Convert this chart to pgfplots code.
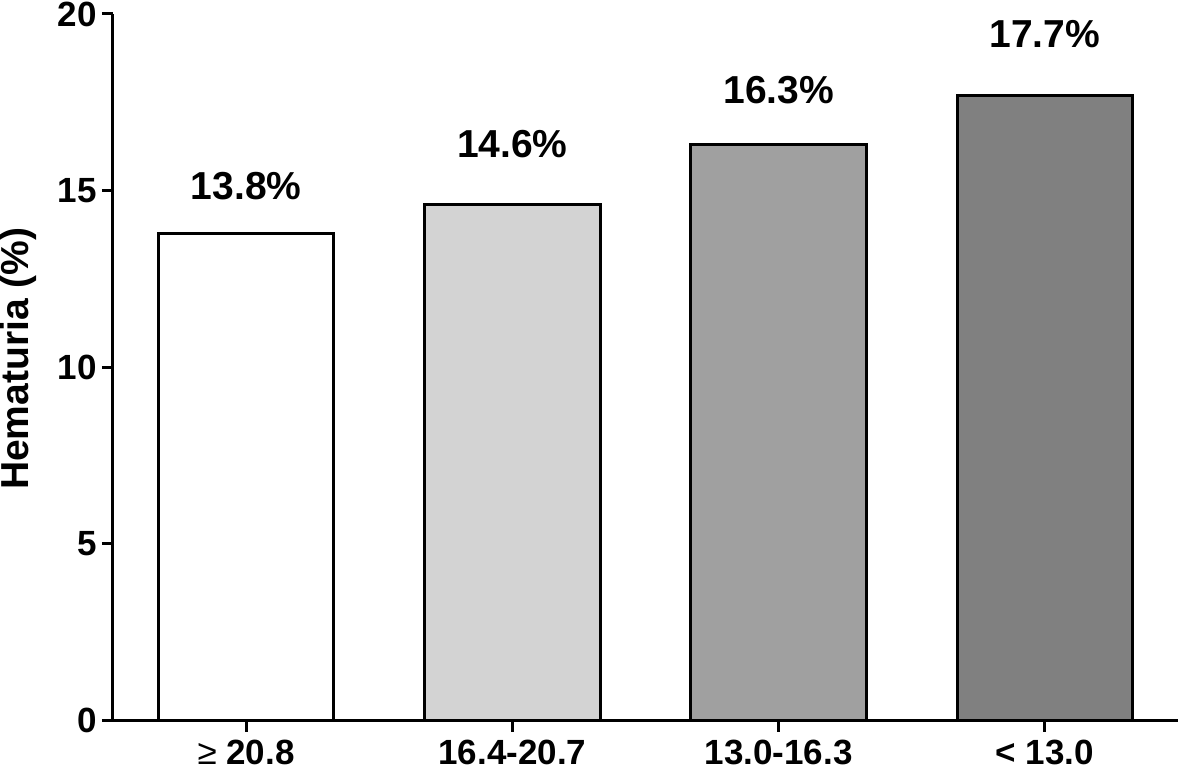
\documentclass[border=0pt]{standalone}
\usepackage{pgfplots}
\pgfplotsset{compat=1.18}
\usepackage{fontspec}
\setmainfont{Liberation Sans}
\definecolor{barA}{HTML}{FFFFFF}
\definecolor{barB}{HTML}{D3D3D3}
\definecolor{barC}{HTML}{A0A0A0}
\definecolor{barD}{HTML}{808080}
\begin{document}
\begin{tikzpicture}
\begin{axis}[
  name=ax,
  scale only axis,
  width=532.5pt, height=353.3pt,
  xmin=-0.5, xmax=3.5, ymin=0, ymax=20,
  axis lines*=left,
  axis line style={line width=1.5pt, black},
  clip=false,
  tick align=outside,
  major tick length=5.5pt,
  tick style={line width=1.5pt, black},
  xtick={0,1,2,3},
  xticklabels={{{\mdseries ≥} 20.8},{16.4-20.7},{13.0-16.3},{< 13.0}},
  ytick={0,5,10,15,20},
  /pgf/number format/assume math mode=true,
  tick label style={font=\bfseries\fontsize{17.5}{17.5}\selectfont},
  yticklabel style={anchor=east, inner sep=0pt, xshift=-2.5pt},
  xticklabel style={anchor=north, inner sep=0pt, yshift=-4pt},
  every axis y label/.style={at={([xshift=-47.5pt]axis description cs:0,0.512)}, rotate=90, anchor=center, font=\bfseries\fontsize{19.5}{19.5}\selectfont},
  ylabel={Hematuria (\%)},
]
\addplot[ybar, bar shift=0pt, bar width=0.66, fill=barA, draw=black, line width=1.5pt] coordinates {(0,13.8)};
\addplot[ybar, bar shift=0pt, bar width=0.66, fill=barB, draw=black, line width=1.5pt] coordinates {(1,14.6)};
\addplot[ybar, bar shift=0pt, bar width=0.66, fill=barC, draw=black, line width=1.5pt] coordinates {(2,16.3)};
\addplot[ybar, bar shift=0pt, bar width=0.66, fill=barD, draw=black, line width=1.5pt] coordinates {(3,17.7)};
\addplot[draw=none, mark=none, nodes near coords, point meta=explicit symbolic,
  nodes near coords style={anchor=base, inner sep=0pt, font=\bfseries\fontsize{19.5}{19.5}\selectfont}]
  coordinates {(0,14.76)[13.8\%] (1,15.95)[14.6\%] (2,17.48)[16.3\%] (3,19.04)[17.7\%]};
\end{axis}
\pgfresetboundingbox
\path ([xshift=-56.5pt,yshift=-24.15pt]ax.south west) rectangle ([xshift=1.5pt,yshift=7pt]ax.north east);
\end{tikzpicture}
\end{document}
